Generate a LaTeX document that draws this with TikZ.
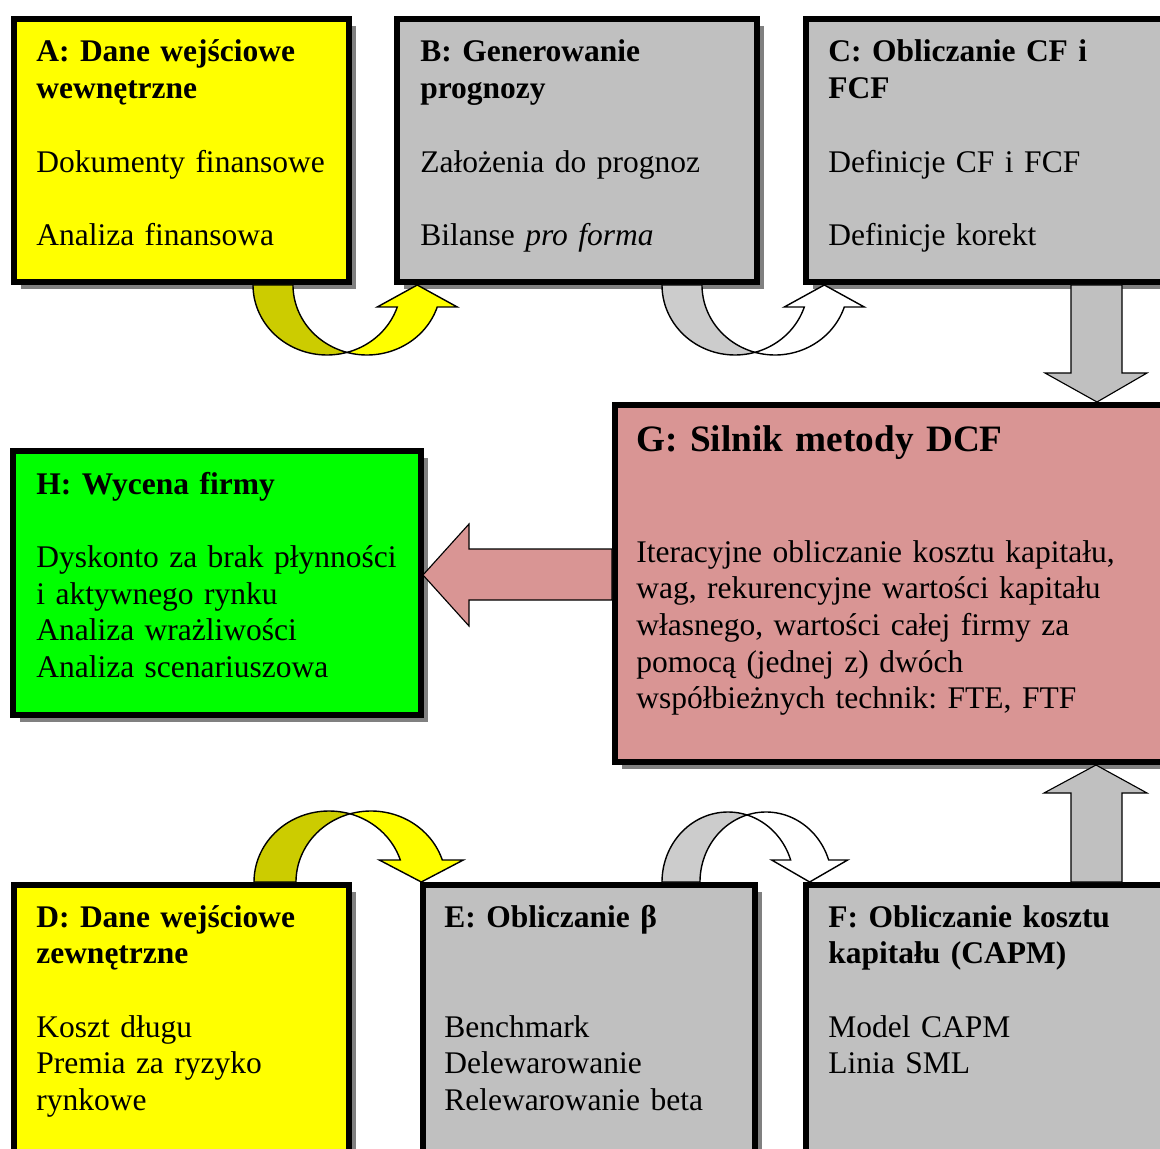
\documentclass[tikz,border=0pt]{standalone}
\usepackage{fontspec}
\setmainfont{Liberation Serif}
\usetikzlibrary{positioning,fit,calc,shadows}
\definecolor{boxyellow}{HTML}{FFFF00}
\definecolor{darkyellow}{HTML}{CCCC00}
\definecolor{boxgreen}{HTML}{00FF00}
\definecolor{boxgray}{HTML}{C0C0C0}
\definecolor{lightgray}{HTML}{CCCCCC}
\definecolor{boxpink}{HTML}{D99594}
\definecolor{shadowgray}{HTML}{808080}
\frenchspacing
\tikzset{box/.style={draw=black,line width=4.3pt,inner sep=0pt,
    drop shadow={shadow xshift=5.2pt,shadow yshift=-5.2pt,fill=shadowgray,opacity=1}}}
\tikzset{boxtext/.style={anchor=base west,inner sep=0pt,text width=14cm,align=left,
    font=\fontsize{22.4}{26.1}\selectfont}}
\tikzset{blockarrow/.style={draw=black,line width=0.8pt,line join=miter}}
\tikzset{bentline/.style={draw=black,line width=1pt}}

% bent arrow: left x, base y, x radius, y radius (signed), shaft width, back colour, front colour
\newcommand{\bentarrow}[7]{%
  \pgfmathsetmacro{\bxa}{#1+#3}%
  \pgfmathsetmacro{\bxb}{#1+#3+#5}%
  \pgfmathsetmacro{\bti}{acos(#5/(2*#3))}%
  \pgfmathsetmacro{\btj}{180-\bti}%
  \pgfmathsetmacro{\bth}{asin(22/abs(#4))}%
  \pgfmathsetmacro{\bhy}{#2+22*(#4)/abs(#4)}%
  \pgfmathsetmacro{\bmx}{\bxa+#5/2+#3*cos(\bth)}%
  \filldraw[bentline,fill=#6] plot[domain=180:\bti,samples=40] ({\bxa+#3*cos(\x)},{#2+(#4)*sin(\x)})
    -- plot[domain=\btj:180,samples=40] ({\bxb+#3*cos(\x)},{#2+(#4)*sin(\x)}) -- cycle;
  \filldraw[bentline,fill=#7] plot[domain=\btj:\bth,samples=40] ({\bxb+#3*cos(\x)},{#2+(#4)*sin(\x)})
    -- (\bmx+#5,\bhy) -- (\bmx,#2) -- (\bmx-#5,\bhy)
    -- plot[domain=\bth:\bti,samples=40] ({\bxa+#3*cos(\x)},{#2+(#4)*sin(\x)}) -- cycle;
}

\begin{document}
\begin{tikzpicture}[x=0.025cm,y=-0.025cm]
    \clip (0,0) rectangle (1160,1149);
    \fill[white] (0,0) rectangle (1160,1149);

    % boxes
    \node[box,fill=boxyellow,fit={(14,19) (349,282)}] (A) {};
    \node[box,fill=boxgray,fit={(397,19) (757,282)}] (B) {};
    \node[box,fill=boxgray,fit={(806,19) (1180,282)}] (C) {};
    \node[box,fill=boxgreen,fit={(13,451) (421,715)}] (H) {};
    \node[box,fill=boxpink,fit={(615,405) (1180,762)}] (G) {};
    \node[box,fill=boxyellow,fit={(14,885) (349,1170)}] (D) {};
    \node[box,fill=boxgray,fit={(423,885) (755,1170)}] (E) {};
    \node[box,fill=boxgray,fit={(806,885) (1180,1170)}] (F) {};

    % arrows
    \bentarrow{253}{285}{74}{70}{40}{darkyellow}{boxyellow}
    \bentarrow{662}{285}{73}{70}{40}{lightgray}{white}
    \bentarrow{254}{882}{75}{-71}{42}{darkyellow}{boxyellow}
    \bentarrow{662}{882}{66}{-70}{38}{lightgray}{white}
    \filldraw[blockarrow,fill=boxgray] (1071,285) -- (1122,285) -- (1122,373) -- (1147,373)
        -- (1097,402) -- (1045,373) -- (1071,373) -- cycle;
    \filldraw[blockarrow,fill=boxgray] (1071,882) -- (1122,882) -- (1122,793) -- (1147,793)
        -- (1096,765) -- (1044,793) -- (1071,793) -- cycle;
    \filldraw[blockarrow,fill=boxpink] (612,549) -- (469,549) -- (469,524) -- (423,575)
        -- (469,626) -- (469,600) -- (612,600) -- cycle;

    % texts
    \node[boxtext] (At) at (36,62) {\textbf{A: Dane wejściowe}\\\textbf{wewnętrzne}\\[26.1pt]Dokumenty finansowe\\[26.1pt]Analiza finansowa};
    \node[boxtext] (Bt) at (420,62) {\textbf{B: Generowanie}\\\textbf{prognozy}\\[26.1pt]Założenia do prognoz\\[26.1pt]Bilanse \textit{pro forma}};
    \node[boxtext] (Ct) at (828,62) {\textbf{C: Obliczanie CF i}\\\textbf{FCF}\\[26.1pt]Definicje CF i FCF\\[26.1pt]Definicje korekt};
    \node[boxtext] (Ht) at (36,494) {\textbf{H: Wycena firmy}\\[26.1pt]Dyskonto za brak płynności\\i aktywnego rynku\\Analiza wrażliwości\\Analiza scenariuszowa};
    \node[boxtext,font=\fontsize{26.5}{30}\selectfont\bfseries] (Gt) at (636,451) {G: Silnik metody DCF};
    \node[boxtext] (Gb) at (636,562) {Iteracyjne obliczanie kosztu kapitału,\\wag, rekurencyjne wartości kapitału\\własnego, wartości całej firmy za\\pomocą (jednej z) dwóch\\współbieżnych technik: FTE, FTF};
    \node[boxtext] (Dt) at (36,927) {\textbf{D: Dane wejściowe}\\\textbf{zewnętrzne}\\[26.1pt]Koszt długu\\Premia za ryzyko\\rynkowe};
    \node[boxtext] (Et) at (444,927) {\textbf{E: Obliczanie β}\\[52.2pt]Benchmark\\Delewarowanie\\Relewarowanie beta};
    \node[boxtext] (Ft) at (828,927) {\textbf{F: Obliczanie kosztu}\\\textbf{kapitału (CAPM)}\\[26.1pt]Model CAPM\\Linia SML};
\end{tikzpicture}
\end{document}
